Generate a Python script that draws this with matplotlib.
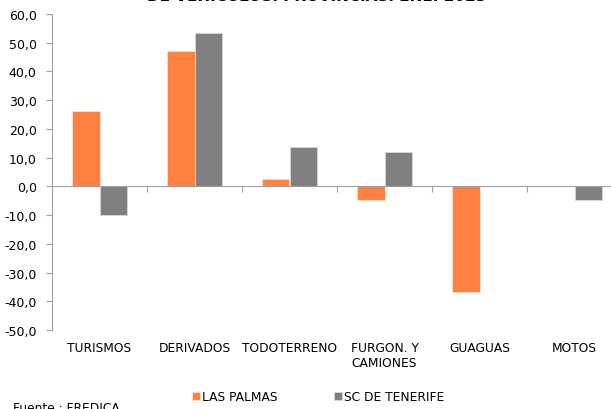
import matplotlib
matplotlib.use("Agg")
import matplotlib.pyplot as plt
from matplotlib.ticker import FuncFormatter
import numpy as np

categories = ["TURISMOS", "DERIVADOS", "TODOTERRENO", "FURGON. Y\nCAMIONES", "GUAGUAS", "MOTOS"]
las_palmas = [26.3, 47.0, 2.5, -4.9, -36.6, 0.3]
sc_tenerife = [-10.1, 53.3, 13.7, 11.8, 0.0, -4.7]
yticks = [-50, -40, -30, -20, -10, 0, 10, 20, 30, 40, 50, 60]

W, H = 611, 410
fig = plt.figure(figsize=(W/100, H/100), dpi=100)
ax = fig.add_axes([52/W, 1-331/H, 570/W, (331-15)/H])

x = np.arange(len(categories))
bw = 0.285
ax.bar(x - bw/2, las_palmas, bw, color="#FF8040", edgecolor="#FFE0D0", linewidth=0.6, label="LAS PALMAS", zorder=2)
ax.bar(x + bw/2, sc_tenerife, bw, color="#808080", edgecolor="#D8D8D8", linewidth=0.6, label="SC DE TENERIFE", zorder=2)

ax.set_xlim(-0.5, len(categories)-0.5)
ax.set_ylim(-50, 60)
ax.set_yticks(yticks)
ax.yaxis.set_major_formatter(FuncFormatter(lambda v, p: f"{v:.1f}".replace(".", ",")))
ax.tick_params(axis="y", length=4, color="#A0A0A0", labelsize=9, pad=7)

ax.set_xticks(np.arange(len(categories)+1) - 0.5)
ax.set_xticklabels([])
ax.tick_params(axis="x", length=4, color="#A0A0A0", direction="out")
ax.spines["bottom"].set_position(("data", 0))
ax.spines["bottom"].set_color("#A0A0A0")
ax.spines["left"].set_color("#A0A0A0")
ax.spines["top"].set_visible(False)
ax.spines["right"].set_visible(False)

for i, c in enumerate(categories):
    ax.text(i, -0.035, c, transform=ax.get_xaxis_transform(), ha="center", va="top", fontsize=8.8)

fig.text(317/W, 1.0 + 0.027, "DE VEHÍCULOS. PROVINCIAS. ENE. 2023", ha="center", va="top",
         fontsize=11, fontweight="bold")

leg = fig.legend(loc="center", bbox_to_anchor=(318/W, 1-398/H), ncol=2, frameon=False,
                 fontsize=8.8, handlelength=0.65, handleheight=0.65, handletextpad=0.2, columnspacing=4.6)
fig.text(13/W, 1-409/H, "Fuente : FREDICA", ha="left", va="center", fontsize=8.8)

fig.savefig("out.png", dpi=100)
